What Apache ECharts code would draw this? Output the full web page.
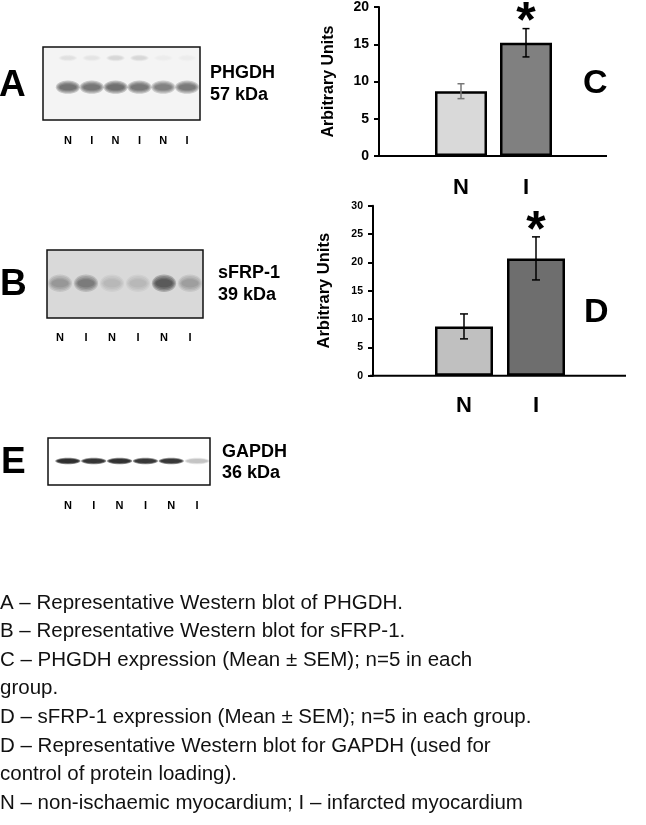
<!DOCTYPE html>
<html><head><meta charset="utf-8">
<script src="https://cdn.jsdelivr.net/npm/echarts@6/dist/echarts.min.js"></script>
<style>html,body{margin:0;padding:0;background:#fff}#c{width:646px;height:825px}</style>
</head><body><div id="c"></div>
<script>
// ---------- data ----------
const groups = ['N', 'I'];
const phgdhMean = [8.7, 15.2];
const phgdhSem = [1.0, 1.9];
const sfrpMean = [8.7, 20.7];
const sfrpSem = [2.2, 3.8];
const significance = ['', '*'];
const laneLabels = ['N', 'I', 'N', 'I', 'N', 'I'];
const phgdhBand = [0.78, 0.74, 0.84, 0.76, 0.66, 0.72];
const phgdhUpper = [0.12, 0.1, 0.2, 0.2, 0.05, 0.05];
const sfrpBand = [0.35, 0.55, 0.14, 0.14, 0.85, 0.3];
const gapdhBand = [0.95, 0.9, 0.92, 0.88, 0.88, 0.18];
const captionLines = [
  'A \u2013 Representative Western blot of PHGDH.',
  'B \u2013 Representative Western blot for sFRP-1.',
  'C \u2013 PHGDH expression (Mean \u00b1 SEM); n=5 in each',
  'group.',
  'D \u2013 sFRP-1 expression (Mean \u00b1 SEM); n=5 in each group.',
  'D \u2013 Representative Western blot for GAPDH (used for',
  'control of protein loading).',
  'N \u2013 non-ischaemic myocardium; I \u2013 infarcted myocardium'
];

// ---------- styling / layout ----------
const FONT = '"Liberation Sans", Arial, Helvetica, sans-serif';
const chart = echarts.init(document.getElementById('c'), null, {renderer: 'canvas'});

function errRender(means, sems, colors, capW, starOffset) {
  return function (params, api) {
    const i = params.dataIndex;
    const top = api.coord([i, means[i] + sems[i]]);
    const bot = api.coord([i, means[i] - sems[i]]);
    const st = {stroke: colors[i], lineWidth: 1.5};
    const ch = [
      {type: 'line', shape: {x1: top[0], y1: top[1], x2: bot[0], y2: bot[1]}, style: st},
      {type: 'line', shape: {x1: top[0] - capW, y1: top[1], x2: top[0] + capW, y2: top[1]}, style: st},
      {type: 'line', shape: {x1: bot[0] - capW, y1: bot[1], x2: bot[0] + capW, y2: bot[1]}, style: st}
    ];
    if (significance[i]) {
      ch.push({type: 'text', style: {text: significance[i], x: top[0], y: top[1] - starOffset,
        align: 'center', verticalAlign: 'middle', fontSize: 50, fontWeight: 'bold', fontFamily: FONT, fill: '#000'}});
    }
    return {type: 'group', children: ch};
  };
}

function bandRender(bandY, w, h, base, soft) {
  return function (params, api) {
    const c = api.coord([params.dataIndex, bandY]);
    const v = api.value(1);
    const ch = [];
    const layers = soft ? 4 : 3;
    for (let k = layers - 1; k >= 0; k--) {
      const gx = soft ? 1 + k * 0.14 : 1 + k * 0.1;
      const gy = soft ? 1 + k * 0.4 : 1 + k * 0.3;
      ch.push({type: 'ellipse', shape: {cx: c[0], cy: c[1], rx: w / 2 * gx, ry: h / 2 * gy},
        style: {fill: base, opacity: v * (soft ? 0.3 : 0.45)}});
    }
    return {type: 'group', children: ch};
  };
}

function laneAxis(grid, margin) {
  return {type: 'category', gridIndex: grid, data: laneLabels,
    axisLine: {show: false}, axisTick: {show: false},
    axisLabel: {margin: margin, fontSize: 11, fontWeight: 'bold', color: '#000', fontFamily: FONT}};
}
function hiddenY(grid) {
  return {type: 'value', gridIndex: grid, min: 0, max: 1, show: false};
}
function barY(grid, max, offset, fs, nameGap, nameSize) {
  return {type: 'value', gridIndex: grid, min: 0, max: max, interval: 5, offset: offset,
    axisLine: {show: true, lineStyle: {color: '#000', width: 2}},
    axisTick: {show: true, length: 5, lineStyle: {color: '#000', width: 2}},
    splitLine: {show: false},
    axisLabel: {fontSize: fs, fontWeight: 'bold', color: '#000', fontFamily: FONT, margin: 10},
    name: 'Arbitrary Units', nameLocation: 'middle', nameGap: nameGap,
    nameTextStyle: {fontSize: nameSize, fontWeight: 'bold', color: '#000', fontFamily: FONT}};
}
function barX(grid, margin) {
  return {type: 'category', gridIndex: grid, data: groups,
    axisLine: {show: false}, axisTick: {show: false},
    axisLabel: {margin: margin, fontSize: 22, fontWeight: 'bold', color: '#000', fontFamily: FONT}};
}

const gC = {left: 428.5, top: 7, width: 130, height: 149};
const gD = {left: 428, top: 205.7, width: 144, height: 170};

const graphic = [];
function txt(t, x, y, size, opts) {
  graphic.push(Object.assign({type: 'text', x: x, y: y, z: 10,
    style: {text: t, fontSize: size, fontWeight: 'bold', fontFamily: FONT, fill: '#000', verticalAlign: 'middle'}}, opts || {}));
}
function box(x, y, w, h, fill) {
  graphic.push({type: 'rect', z: -1, shape: {x: x, y: y, width: w, height: h}, style: {fill: fill, stroke: '#111', lineWidth: 1.5}});
}
// baselines of bar charts
graphic.push({type: 'line', shape: {x1: 374, y1: gC.top + gC.height, x2: 607, y2: gC.top + gC.height}, style: {stroke: '#000', lineWidth: 2}, z: 5});
graphic.push({type: 'line', shape: {x1: 370, y1: gD.top + gD.height, x2: 626, y2: gD.top + gD.height}, style: {stroke: '#000', lineWidth: 2}, z: 5});
// blot frames
box(43, 47, 157, 73, '#f4f4f4');
box(47, 250, 156, 68, '#d9d9d9');
box(48, 438, 162, 47, '#ffffff');
// panel letters
txt('A', -1, 86, 37);
txt('B', 0, 285, 37);
txt('E', 1, 463, 37);
txt('C', 583, 84, 34);
txt('D', 584, 313, 34);
// protein labels
txt('PHGDH', 210, 73, 18);
txt('57 kDa', 210, 95, 18);
txt('sFRP-1', 218, 273, 18);
txt('39 kDa', 218, 295, 18);
txt('GAPDH', 222, 452, 18);
txt('36 kDa', 222, 473, 18);
// caption
captionLines.forEach(function (l, i) {
  graphic.push({type: 'text', x: 0, y: 603 + i * 28.6, style: {text: l, fontSize: 20.5, fontFamily: FONT, fill: '#111', verticalAlign: 'middle'}});
});

chart.setOption({
  animation: false,
  backgroundColor: '#fff',
  grid: [
    Object.assign({containLabel: false}, gC),
    Object.assign({containLabel: false}, gD),
    {left: 56, top: 47, width: 143, height: 73},
    {left: 47, top: 250, width: 156, height: 68},
    {left: 55, top: 438, width: 155, height: 47}
  ],
  xAxis: [barX(0, 21), barX(1, 19), laneAxis(2, 15), laneAxis(3, 14), laneAxis(4, 15)],
  yAxis: [barY(0, 20, 49.5, 14, 42, 16), barY(1, 30, 55, 10.5, 40, 16.5), hiddenY(2), hiddenY(3), hiddenY(4)],
  series: [
    {type: 'bar', xAxisIndex: 0, yAxisIndex: 0, barWidth: 52, z: 2,
      data: phgdhMean.map(function (v, i) { return {value: v, itemStyle: {color: ['#d9d9d9', '#808080'][i]}}; }),
      itemStyle: {borderColor: '#000', borderWidth: 2.5}},
    {type: 'custom', xAxisIndex: 0, yAxisIndex: 0, z: 4, renderItem: errRender(phgdhMean, phgdhSem, ['#777', '#000'], 3.5, 5),
      data: phgdhMean.map(function (v, i) { return [i, v]; })},
    {type: 'bar', xAxisIndex: 1, yAxisIndex: 1, barWidth: 58, z: 2,
      data: sfrpMean.map(function (v, i) { return {value: v, itemStyle: {color: ['#c0c0c0', '#6e6e6e'][i]}}; }),
      itemStyle: {borderColor: '#000', borderWidth: 2.5}},
    {type: 'custom', xAxisIndex: 1, yAxisIndex: 1, z: 4, renderItem: errRender(sfrpMean, sfrpSem, ['#000', '#000'], 4, 5),
      data: sfrpMean.map(function (v, i) { return [i, v]; })},
    {type: 'custom', xAxisIndex: 2, yAxisIndex: 2, renderItem: bandRender(0.45, 17, 6, '#333', true),
      data: phgdhBand.map(function (v, i) { return [i, v]; })},
    {type: 'custom', xAxisIndex: 2, yAxisIndex: 2, renderItem: bandRender(0.85, 13, 3, '#777', true),
      data: phgdhUpper.map(function (v, i) { return [i, v]; })},
    {type: 'custom', xAxisIndex: 3, yAxisIndex: 3, renderItem: bandRender(0.51, 17, 8, '#222', true),
      data: sfrpBand.map(function (v, i) { return [i, v]; })},
    {type: 'custom', xAxisIndex: 4, yAxisIndex: 4, renderItem: bandRender(0.51, 21, 4, '#000', false),
      data: gapdhBand.map(function (v, i) { return [i, v]; })}
  ],
  graphic: graphic
});
</script></body></html>
